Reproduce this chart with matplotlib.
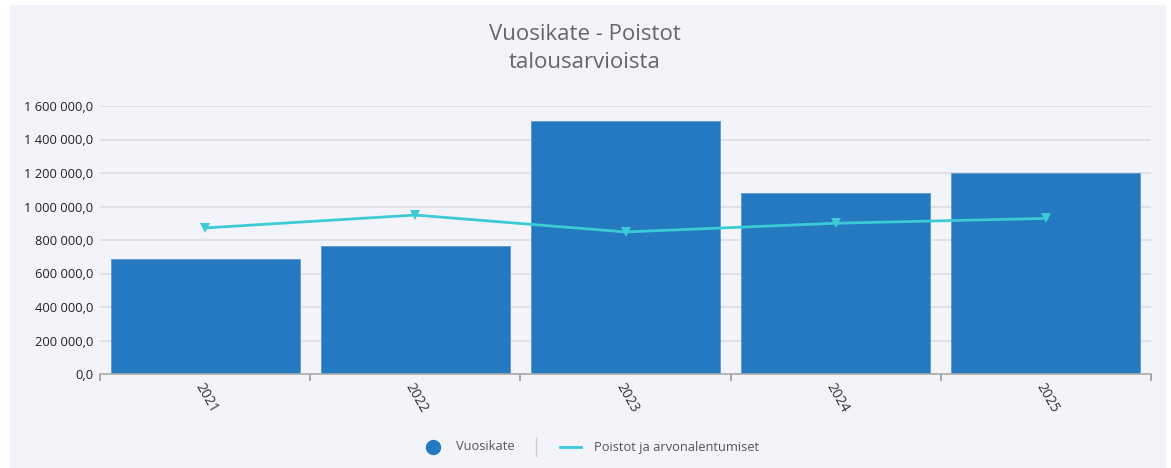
import matplotlib
matplotlib.use("Agg")
import matplotlib.pyplot as plt
from matplotlib.lines import Line2D
import numpy as np

years = ["2021", "2022", "2023", "2024", "2025"]
vuosikate = [686000, 764000, 1512000, 1079000, 1202000]
poistot = [872000, 949000, 848000, 900000, 929000]
yticks = [0, 200000, 400000, 600000, 800000, 1000000, 1200000, 1400000, 1600000]

plt.rcParams['font.family'] = ['Open Sans', 'DejaVu Sans']

W, H = 1171, 468
fig = plt.figure(figsize=(W / 100, H / 100), dpi=100)
fig.patch.set_facecolor('white')

bg = fig.add_axes([10 / W, 0, (1166 - 10) / W, (H - 5) / H], zorder=-5)
bg.set_facecolor('#f3f4f9')
bg.set_xticks([]); bg.set_yticks([])
for s in bg.spines.values():
    s.set_visible(False)

ax = fig.add_axes([100 / W, 1 - 374 / H, (1151 - 100) / W, (374 - 106) / H], zorder=1)
ax.set_facecolor('none')

x = np.arange(len(years))
bar_color = '#2479c1'
line_color = '#3ccad6'
ax.bar(x, vuosikate, width=0.9, color=bar_color, edgecolor='#5a9ad0', linewidth=0.6, zorder=2)
ax.plot(x, poistot, color=line_color, linewidth=2, marker='v', markersize=7,
        markeredgewidth=0, zorder=3)

ax.set_xlim(-0.5, len(years) - 0.5)
ax.set_ylim(0, 1600000)
ax.set_yticks(yticks)
ax.set_yticklabels([f"{v:,.1f}".replace(",", " ").replace(".", ",") for v in yticks],
                   fontsize=9.3, color='#222222')
ax.yaxis.grid(True, color='#dcdde2', linewidth=1.2, zorder=0)
ax.tick_params(axis='y', length=0, pad=5)

ax.set_xticks(x)
ax.set_xticklabels(years, rotation=-60, ha='left', va='top', rotation_mode='anchor',
                   fontsize=10, color='#333333')
ax.tick_params(axis='x', length=0, pad=5)
ax.set_xticks(np.arange(-0.5, len(years)), minor=True)
ax.tick_params(axis='x', which='minor', length=5, color='#999999', width=1.2)

for s in ['top', 'right', 'left']:
    ax.spines[s].set_visible(False)
ax.spines['bottom'].set_color('#aaaaaa')
ax.spines['bottom'].set_linewidth(1.2)
ax.set_axisbelow(True)

fig.text(585 / W, 1 - 35 / H, "Vuosikate - Poistot", ha='center', va='center',
         fontsize=16, color='#666666')
fig.text(585 / W, 1 - 63 / H, "talousarvioista", ha='center', va='center',
         fontsize=16, color='#666666')

# legend
ly = 1 - 447 / H
fig.add_artist(Line2D([433 / W], [ly], marker='o', markersize=10, color=bar_color,
                      linestyle='none', transform=fig.transFigure))
fig.text(456 / W, ly, "Vuosikate", ha='left', va='center', fontsize=9.3, color='#555555')
fig.add_artist(Line2D([536 / W, 536 / W], [ly - 9 / H, ly + 9 / H], color='#cccccc',
                      linewidth=1, transform=fig.transFigure))
fig.add_artist(Line2D([560 / W, 581 / W], [ly, ly], color=line_color, linewidth=2,
                      transform=fig.transFigure))
fig.text(594 / W, ly, "Poistot ja arvonalentumiset", ha='left', va='center',
         fontsize=9.3, color='#555555')

fig.savefig("out.png", dpi=100, facecolor=fig.get_facecolor())
